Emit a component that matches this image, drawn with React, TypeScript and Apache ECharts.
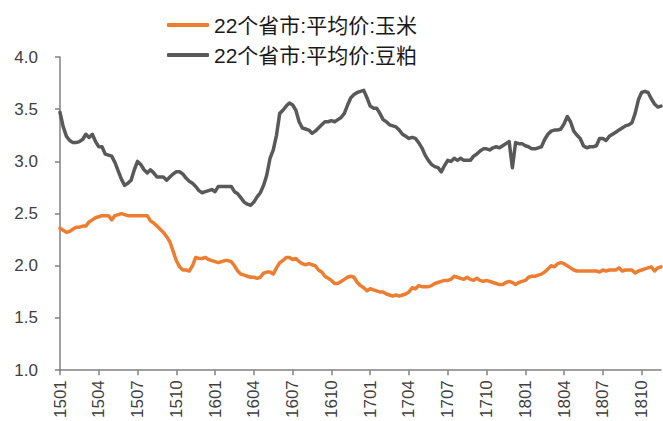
import React, { useEffect, useRef } from "react";
import * as echarts from "echarts";

// Weekly samples (4 per month), Jan 2015 – Nov 2018
const corn: number[] = [
  2.36, 2.34, 2.32, 2.33, 2.35, 2.37, 2.37, 2.38, 2.38, 2.42, 2.44, 2.46,
  2.47, 2.48, 2.48, 2.48, 2.44, 2.48, 2.49, 2.50, 2.49, 2.48, 2.48, 2.48,
  2.48, 2.48, 2.48, 2.48, 2.43, 2.41, 2.38, 2.35, 2.32, 2.28, 2.23, 2.14,
  2.05, 1.99, 1.96, 1.96, 1.95, 2.00, 2.08, 2.07, 2.07, 2.08, 2.06, 2.05,
  2.04, 2.03, 2.04, 2.05, 2.05, 2.04, 2.00, 1.95, 1.92, 1.91, 1.90, 1.89,
  1.89, 1.88, 1.89, 1.93, 1.94, 1.94, 1.92, 1.98, 2.03, 2.05, 2.08, 2.08,
  2.06, 2.07, 2.04, 2.02, 2.01, 2.02, 2.01, 2.00, 1.96, 1.94, 1.90, 1.88,
  1.86, 1.83, 1.83, 1.85, 1.87, 1.89, 1.90, 1.89, 1.84, 1.81, 1.79, 1.76,
  1.78, 1.77, 1.76, 1.75, 1.75, 1.73, 1.72, 1.71, 1.72, 1.71, 1.72, 1.73,
  1.75, 1.79, 1.78, 1.81, 1.80, 1.80, 1.80, 1.81, 1.83, 1.84, 1.85, 1.86,
  1.86, 1.87, 1.90, 1.89, 1.88, 1.87, 1.89, 1.87, 1.86, 1.88, 1.86, 1.85,
  1.86, 1.85, 1.84, 1.83, 1.82, 1.82, 1.84, 1.85, 1.84, 1.82, 1.84, 1.85,
  1.86, 1.89, 1.90, 1.90, 1.91, 1.92, 1.94, 1.97, 2.00, 1.99, 2.02, 2.03,
  2.02, 2.00, 1.98, 1.96, 1.95, 1.95, 1.95, 1.95, 1.95, 1.95, 1.95, 1.94,
  1.96, 1.95, 1.96, 1.96, 1.96, 1.98, 1.95, 1.96, 1.96, 1.96, 1.93, 1.95,
  1.96, 1.97, 1.98, 1.99, 1.95, 1.98, 1.99,
];

const soymeal: number[] = [
  3.47, 3.33, 3.24, 3.20, 3.18, 3.18, 3.19, 3.21, 3.26, 3.23, 3.26, 3.19,
  3.14, 3.14, 3.07, 3.06, 3.05, 2.99, 2.91, 2.83, 2.77, 2.79, 2.82, 2.92,
  3.00, 2.97, 2.92, 2.89, 2.92, 2.89, 2.85, 2.85, 2.85, 2.82, 2.85, 2.88,
  2.90, 2.90, 2.88, 2.84, 2.81, 2.79, 2.76, 2.72, 2.70, 2.71, 2.72, 2.73,
  2.71, 2.76, 2.76, 2.76, 2.76, 2.76, 2.71, 2.69, 2.65, 2.61, 2.59, 2.58,
  2.61, 2.66, 2.70, 2.77, 2.87, 3.03, 3.11, 3.25, 3.46, 3.49, 3.53, 3.56,
  3.54, 3.49, 3.38, 3.32, 3.31, 3.30, 3.27, 3.29, 3.32, 3.35, 3.38, 3.38,
  3.39, 3.38, 3.40, 3.42, 3.46, 3.54, 3.61, 3.64, 3.66, 3.67, 3.68, 3.61,
  3.53, 3.51, 3.51, 3.46, 3.40, 3.38, 3.35, 3.34, 3.33, 3.30, 3.26, 3.24,
  3.22, 3.23, 3.22, 3.18, 3.13, 3.06, 3.01, 2.97, 2.95, 2.94, 2.90, 2.96,
  3.01, 3.00, 3.03, 3.01, 3.03, 3.01, 3.01, 3.01, 3.05, 3.07, 3.10, 3.12,
  3.12, 3.11, 3.13, 3.14, 3.13, 3.15, 3.17, 3.19, 2.94, 3.18, 3.17, 3.17,
  3.15, 3.14, 3.12, 3.12, 3.13, 3.14, 3.21, 3.26, 3.29, 3.30, 3.30, 3.31,
  3.36, 3.43, 3.38, 3.29, 3.25, 3.22, 3.15, 3.13, 3.14, 3.14, 3.15, 3.22,
  3.22, 3.20, 3.24, 3.26, 3.28, 3.30, 3.32, 3.34, 3.35, 3.37, 3.46, 3.59,
  3.66, 3.67, 3.66, 3.60, 3.55, 3.52, 3.53,
];

const years: number[] = [15, 16, 17, 18];
const seriesNames: string[] = ["22个省市:平均价:玉米", "22个省市:平均价:豆粕"];
const colors: string[] = ["#ED7D31", "#595959"];

const categories: string[] = [];
years.forEach((y) => {
  for (let m = 1; m <= 12; m++) {
    for (let w = 1; w <= 4; w++) {
      const ym = `${y}${m < 10 ? "0" + m : m}`;
      categories.push(w === 1 ? ym : `${ym}-${w}`);
    }
  }
});
const cats = categories.slice(0, corn.length);

const FONT = "'Liberation Sans', 'Noto Sans CJK SC', sans-serif";

export default function App() {
  const ref = useRef<HTMLDivElement>(null);
  useEffect(() => {
    if (!ref.current) return;
    const chart = echarts.init(ref.current, null, { renderer: "svg" });
    const showIdx = (i: number) => i % 12 === 0;
    const legendText = { fontSize: 21, lineHeight: 22, color: "#1a1a1a", fontFamily: FONT };
    chart.setOption({
      animation: false,
      backgroundColor: "#ffffff",
      textStyle: { fontFamily: FONT },
      legend: {
        orient: "vertical",
        left: 167,
        top: 14,
        padding: 0,
        itemWidth: 42,
        itemHeight: 4,
        itemGap: 8,
        icon: "roundRect",
        textStyle: legendText,
        data: seriesNames.map((n) => ({ name: n, textStyle: legendText })),
      },
      grid: { left: 60, right: 2, top: 57, bottom: 50, containLabel: false },
      xAxis: {
        type: "category",
        data: cats,
        boundaryGap: false,
        axisLine: { show: true, lineStyle: { color: "#808080", width: 1.5 } },
        axisTick: { show: true, interval: (i: number) => showIdx(i), length: 5, lineStyle: { color: "#808080", width: 1.5 } },
        axisLabel: {
          interval: (i: number) => showIdx(i),
          rotate: 90,
          margin: 10,
          fontSize: 17,
          color: "#404040",
          fontFamily: FONT,
          formatter: (v: string) => v.slice(0, 4),
        },
        splitLine: { show: false },
      },
      yAxis: {
        type: "value",
        min: 1,
        max: 4,
        interval: 0.5,
        axisLine: { show: true, lineStyle: { color: "#808080", width: 1.5 } },
        axisTick: { show: true, length: 5, lineStyle: { color: "#808080", width: 1.5 } },
        axisLabel: {
          margin: 22,
          fontSize: 17,
          color: "#404040",
          fontFamily: FONT,
          formatter: (v: number) => v.toFixed(1),
        },
        splitLine: { show: false },
      },
      series: [
        {
          name: seriesNames[0],
          type: "line",
          data: corn,
          showSymbol: false,
          symbol: "none",
          itemStyle: { color: colors[0] },
          lineStyle: { color: colors[0], width: 3.5, cap: "round", join: "round" },
        },
        {
          name: seriesNames[1],
          type: "line",
          data: soymeal,
          showSymbol: false,
          symbol: "none",
          itemStyle: { color: colors[1] },
          lineStyle: { color: colors[1], width: 3.5, cap: "round", join: "round" },
        },
      ],
    });
    return () => chart.dispose();
  }, []);
  return (
    <div
      ref={ref}
      style={{ position: "fixed", left: 0, top: 0, width: 663, height: 421, background: "#fff" }}
    />
  );
}
